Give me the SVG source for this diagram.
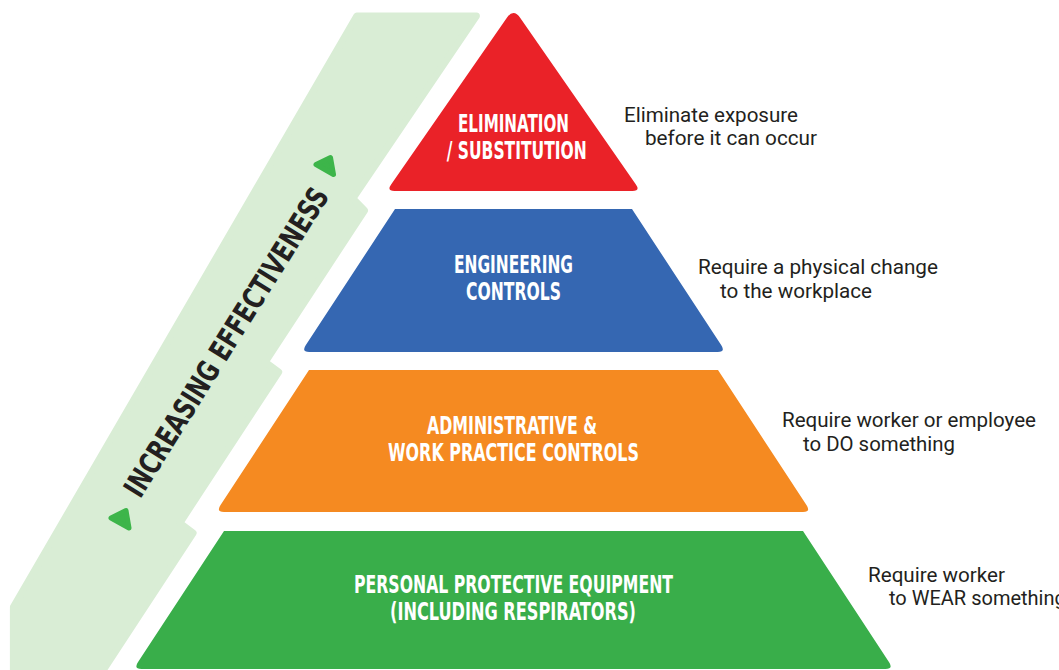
<svg xmlns="http://www.w3.org/2000/svg" width="1059" height="670" viewBox="0 0 1059 670">
<style>
.tl{font-family:"Liberation Sans Narrow","DejaVu Sans Condensed","Liberation Sans",sans-serif;font-weight:bold;font-size:25px;fill:#ffffff;text-anchor:middle}
.desc{font-family:Roboto,"Liberation Sans",sans-serif;font-size:20px;fill:#231f20}
.band{fill:#d9edd5;stroke:#d9edd5;stroke-width:7;stroke-linejoin:round}
.tri{fill:#3db54a;stroke:#3db54a;stroke-width:5;stroke-linejoin:round}
.axis{font-family:"Liberation Sans Narrow","DejaVu Sans Condensed","Liberation Sans",sans-serif;font-weight:bold;font-size:30px;fill:#231f20;text-anchor:middle}
</style>
<rect width="1059" height="670" fill="#ffffff"/>
<g id="effectiveness-band">
<path class="band" d="M356.8,16 L476.4,16 L352.8,198.5 L364.5,210.5 L265.2,362 L278.7,372 L179.8,523 L193.1,533 L96.8,680 L13.4,680 L13.4,607 Z"/>
<polygon class="tri" points="316,164.5 330.5,157.5 333.5,174.5"/>
<polygon class="tri" points="111,518 126,510.5 129,528"/>
<text class="axis" transform="translate(226,342) rotate(-58)" x="0" y="10.7" textLength="358" lengthAdjust="spacingAndGlyphs">INCREASING EFFECTIVENESS</text>
</g>
<g id="connectors"></g>
<g id="tier-elimination">
<path fill="#ea2228" d="M506.7,17.9 Q513.5,8 520.3,17.9 L635.9,184.4 Q640.5,191 632.5,191 H394.5 Q386.5,191 391.1,184.4 Z"/>
<text class="tl" x="513.5" y="132" textLength="111" lengthAdjust="spacingAndGlyphs">ELIMINATION</text>
<text class="tl" x="516.7" y="159" textLength="140" lengthAdjust="spacingAndGlyphs">/ SUBSTITUTION</text>
<text class="desc" x="624" y="122" textLength="174" lengthAdjust="spacingAndGlyphs">Eliminate exposure</text>
<text class="desc" x="645" y="145" textLength="172" lengthAdjust="spacingAndGlyphs">before it can occur</text>
</g>
<g id="tier-engineering">
<path fill="#3567b2" d="M395,209 H632 L721.3,345.3 Q725.7,352 717.7,352 H309.3 Q301.3,352 305.7,345.3 Z"/>
<text class="tl" x="513.5" y="273" textLength="119" lengthAdjust="spacingAndGlyphs">ENGINEERING</text>
<text class="tl" x="513.5" y="300" textLength="95" lengthAdjust="spacingAndGlyphs">CONTROLS</text>
<text class="desc" x="698" y="274" textLength="240" lengthAdjust="spacingAndGlyphs">Require a physical change</text>
<text class="desc" x="720" y="298" textLength="152" lengthAdjust="spacingAndGlyphs">to the workplace</text>
</g>
<g id="tier-administrative">
<path fill="#f58a21" d="M309,370 H718 L806.6,505.3 Q811,512 803,512 H224 Q216,512 220.4,505.3 Z"/>
<text class="tl" x="512" y="434" textLength="170" lengthAdjust="spacingAndGlyphs">ADMINISTRATIVE &amp;</text>
<text class="tl" x="513.5" y="461" textLength="251" lengthAdjust="spacingAndGlyphs">WORK PRACTICE CONTROLS</text>
<text class="desc" x="782" y="427" textLength="254" lengthAdjust="spacingAndGlyphs">Require worker or employee</text>
<text class="desc" x="803" y="451" textLength="152" lengthAdjust="spacingAndGlyphs">to DO something</text>
</g>
<g id="tier-ppe">
<path fill="#39ae4a" d="M224,531 H803 L889.1,662.3 Q893.5,669 885.5,669 H141.5 Q133.5,669 137.9,662.3 Z"/>
<text class="tl" x="513.5" y="593" textLength="319" lengthAdjust="spacingAndGlyphs">PERSONAL PROTECTIVE EQUIPMENT</text>
<text class="tl" x="513" y="620" textLength="246" lengthAdjust="spacingAndGlyphs">(INCLUDING RESPIRATORS)</text>
<text class="desc" x="868" y="582" textLength="137" lengthAdjust="spacingAndGlyphs">Require worker</text>
<text class="desc" x="889" y="605">to WEAR something</text>
</g>
</svg>
